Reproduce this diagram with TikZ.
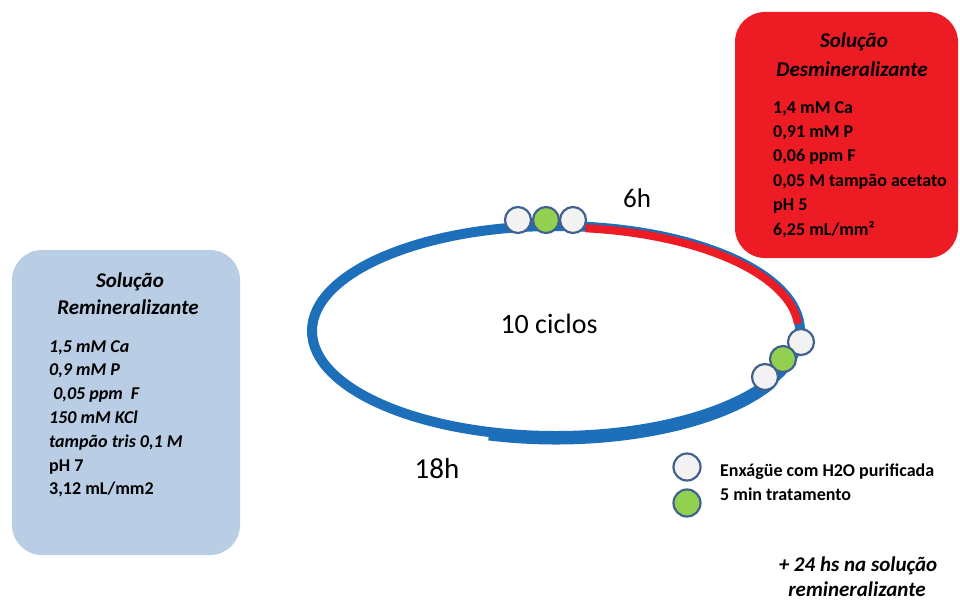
\documentclass[tikz,border=0pt]{standalone}
\usepackage{fontspec}
\setmainfont{Carlito}
\definecolor{boxblue}{HTML}{B9CDE5}
\definecolor{boxred}{HTML}{ED1C24}
\definecolor{ringblue}{HTML}{1E6FB9}
\definecolor{circborder}{HTML}{41618F}
\definecolor{circwhite}{HTML}{F2F2F2}
\definecolor{circgreen}{HTML}{92D050}
\begin{document}
\begin{tikzpicture}[x=1pt,y=1pt,
  panel/.style={draw=none, rounded corners=30pt},
  body/.style={font=\fontsize{18}{22}\selectfont\bfseries, anchor=base west, inner sep=0pt},
  bodyit/.style={font=\fontsize{18}{22}\selectfont\bfseries\itshape, anchor=base west, inner sep=0pt},
  title/.style={font=\fontsize{21}{25}\selectfont\bfseries\itshape, anchor=base, inner sep=0pt},
  biglabel/.style={font=\fontsize{28}{32}\selectfont, anchor=base, inner sep=0pt},
  ring/.style={draw=ringblue, line width=10pt},
  redring/.style={draw=boxred, line width=8pt},
  dot/.style={circle, draw=circborder, line width=2.2pt, minimum size=26pt, inner sep=0pt},
  rinse/.style={dot, fill=circwhite},
  treat/.style={dot, fill=circgreen}]
\useasboundingbox (0,0) rectangle (960,-602);

% panels
\fill[panel, boxblue] (12,-250) rectangle (240,-555);
\fill[panel, boxred] (735,-12) rectangle (958,-258);

% remineralising solution text
\node[title] (rt1) at (130,-287) {Solução};
\node[title] (rt2) at (128,-314) {Remineralizante};
\node[bodyit] (r1) at (49,-352) {1,5 mM Ca};
\node[bodyit] (r2) at (49,-375.8) {0,9 mM P};
\node[bodyit] (r3) at (49,-399.6) {\ 0,05 ppm \ F};
\node[bodyit] (r4) at (49,-423.4) {150 mM KCl};
\node[bodyit] (r5) at (49,-447.2) {tampão tris 0,1 M};
\node[body] (r6) at (49,-471) {pH 7};
\node[body] (r7) at (49,-494.8) {3,12 mL/mm2};

% demineralising solution text
\node[title] (dt1) at (854,-48) {Solução};
\node[title] (dt2) at (852,-76) {Desmineralizante};
\node[body] (d1) at (773,-113) {1,4 mM Ca};
\node[body] (d2) at (773,-137.4) {0,91 mM P};
\node[body] (d3) at (773,-161.8) {0,06 ppm F};
\node[body] (d4) at (773,-186.2) {0,05 M tampão acetato};
\node[body] (d5) at (773,-210.6) {pH 5};
\node[body] (d6) at (773,-235) {6,25 mL/mm²};

% cycle ring
\draw[ring] (556,-331) ellipse [x radius=244, y radius=105];
\draw[ring, line width=9pt] (556,-335) ++(254:244 and 105)
  arc[start angle=254, end angle=332, x radius=244, y radius=105];
\draw[redring] (556,-331) ++(83:242.5 and 103.5)
  arc[start angle=83, end angle=4, x radius=242.5, y radius=103.5];

% treatment markers on the ring
\node[rinse] (a1) at (518,-220) {};
\node[treat] (a2) at (546,-220) {};
\node[rinse] (a3) at (573,-220) {};
\node[rinse] (b1) at (801,-342) {};
\node[treat] (b2) at (783,-359) {};
\node[rinse] (b3) at (765,-377) {};

% labels
\node[biglabel] (cyc) at (549,-333) {10 ciclos};
\node[biglabel, font=\fontsize{29}{33}\selectfont] (h18) at (437,-478) {18h};
\node[biglabel, font=\fontsize{27}{31}\selectfont] (h6) at (637,-207) {6h};

% legend
\node[rinse, minimum size=27pt] (lg1) at (687,-467) {};
\node[treat, minimum size=27pt] (lg2) at (687,-503) {};
\node[body] (lt1) at (720,-476) {Enxágüe com H2O purificada};
\node[body] (lt2) at (720,-500) {5 min tratamento};

% final note
\node[title] (n1) at (858,-571) {+ 24 hs na solução};
\node[title] (n2) at (857,-596) {remineralizante};
\end{tikzpicture}
\end{document}
